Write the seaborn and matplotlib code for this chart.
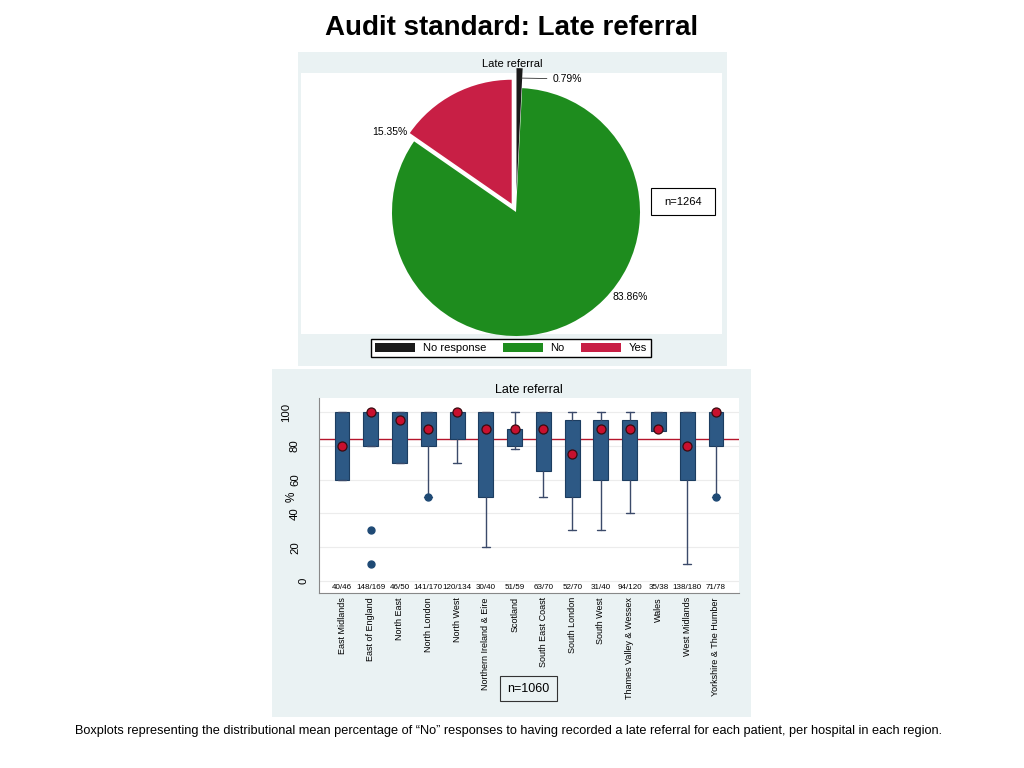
import numpy as np
import pandas as pd
import matplotlib.pyplot as plt
import matplotlib.patches as mpatches
import matplotlib.transforms as mtransforms
import seaborn as sns

sns.set_style('white')
plt.rcParams['font.family'] = ['Liberation Sans', 'DejaVu Sans']
plt.rcParams['text.color'] = 'black'
plt.rcParams['axes.labelcolor'] = 'black'
plt.rcParams['xtick.color'] = 'black'
plt.rcParams['ytick.color'] = 'black'

# pie data (overall responses)
pie_labels = ['No response', 'No', 'Yes']
pie_pct = [0.79, 83.86, 15.35]
pie_text = ['0.79%', '83.86%', '15.35%']
pie_colors = ['#1a1a1a', '#1e8c1e', '#c81f45']

# boxplot data per region (% "No" per hospital)
regions = ['East Midlands', 'East of England', 'North East', 'North London', 'North West',
           'Northern Ireland & Eire', 'Scotland', 'South East Coast', 'South London',
           'South West', 'Thames Valley & Wessex', 'Wales', 'West Midlands',
           'Yorkshire & The Humber']
n_labels = ['40/46', '148/169', '46/50', '141/170', '120/134', '30/40', '51/59', '63/70',
            '52/70', '31/40', '94/120', '35/38', '138/180', '71/78']
q1 = [60, 80, 70, 80, 84, 50, 80, 65, 50, 60, 60, 89, 60, 80]
q3 = [100, 100, 100, 100, 100, 100, 90, 100, 95, 95, 95, 100, 100, 100]
whis_lo = [60, 80, 70, 50, 70, 20, 78, 50, 30, 30, 40, 89, 10, 50]
whis_hi = [100, 100, 100, 100, 100, 100, 100, 100, 100, 100, 100, 100, 100, 100]
outliers = [[], [30, 10], [], [50], [], [], [], [], [], [], [], [], [], [50]]
means = [80, 100, 95, 90, 100, 90, 90, 90, 75, 90, 90, 90, 80, 100]
overall_no = 83.86
y_ticks = [0, 20, 40, 60, 80, 100]

W, H = 1024, 768
bg = '#EAF2F3'

fig = plt.figure(figsize=(W / 100, H / 100), dpi=100)

def fr(x0, y0, x1, y1):
    # pixel box -> figure fraction rect
    return [x0 / W, 1 - y1 / H, (x1 - x0) / W, (y1 - y0) / H]

# panel backgrounds
for x0, y0, x1, y1 in [(298, 52, 727, 366), (272, 369, 751, 717)]:
    fig.patches.append(mpatches.Rectangle((x0 / W, 1 - y1 / H), (x1 - x0) / W, (y1 - y0) / H,
                                          transform=fig.transFigure, facecolor=bg,
                                          edgecolor='none', zorder=-5))

fig.text(512 / W, 1 - 28 / H, 'Audit standard: Late referral', ha='center', va='center',
         fontsize=20, fontweight='bold')

# ---- pie ----
ax_pie = fig.add_axes(fr(301, 73, 722, 334))
wedges, _ = ax_pie.pie(pie_pct, colors=pie_colors, startangle=90, counterclock=False,
                       explode=[0.16, 0, 0.075], radius=1, wedgeprops=dict(linewidth=0))
for w in wedges:
    w.set_clip_on(False)
ax_pie.set_aspect('auto')
ax_pie.set_xlim(-215 / 124, 206 / 124)
ax_pie.set_ylim(-122 / 124, 139 / 124)
ax_pie.axis('off')
ax_pie.add_patch(mpatches.Rectangle((0, 0), 1, 1, transform=ax_pie.transAxes,
                                    facecolor='white', edgecolor='none', zorder=-1))
ax_pie.text(-0.879, 0.645, pie_text[2], ha='right', va='center', fontsize=7.5)
ax_pie.text(0.782, -0.685, pie_text[1], ha='left', va='center', fontsize=7.5)
ax_pie.annotate(pie_text[0], xy=(0.04, 1.08), xytext=(0.298, 1.073), ha='left', va='center',
                fontsize=7.5, annotation_clip=False,
                arrowprops=dict(arrowstyle='-', lw=0.6, color='#333333', shrinkA=2, shrinkB=0))
fig.text(512 / W, 1 - 64 / H, 'Late referral', ha='center', va='center', fontsize=8)

fig.patches.append(mpatches.Rectangle((651 / W, 1 - 215 / H), 64 / W, 27 / H,
                                      transform=fig.transFigure, facecolor='white',
                                      edgecolor='black', linewidth=0.8, zorder=3))
fig.text(683 / W, 1 - 202 / H, 'n=1264', ha='center', va='center', fontsize=8, zorder=4)

handles = [mpatches.Patch(facecolor=c, edgecolor='none') for c in pie_colors]
fig.legend(handles, pie_labels, loc='center', bbox_to_anchor=(511 / W, 1 - 348 / H), ncol=3,
           fontsize=8, frameon=True, fancybox=False, edgecolor='black', framealpha=1,
           handlelength=3.6, handleheight=0.9, handletextpad=0.7, columnspacing=1.5,
           borderpad=0.3)

# ---- boxplot ----
ax = fig.add_axes(fr(319, 398, 739, 593))
stats = []
for i in range(len(regions)):
    stats.append(dict(med=q3[i], q1=q1[i], q3=q3[i], whislo=whis_lo[i], whishi=whis_hi[i],
                      fliers=outliers[i]))
ax.bxp(stats, positions=range(len(regions)), widths=0.52, capwidths=0.28, patch_artist=True,
       manage_ticks=False,
       boxprops=dict(facecolor='#2d5985', edgecolor='#1c3d60', linewidth=0.8),
       whiskerprops=dict(color='#3b4a6a', linewidth=1),
       capprops=dict(color='#3b4a6a', linewidth=1),
       medianprops=dict(linewidth=0),
       flierprops=dict(marker='o', markerfacecolor='#1f4a75', markeredgecolor='#1f4a75',
                       markersize=5))
ax.axhline(overall_no, color='#b5152b', lw=1, zorder=1.5)
sns.stripplot(x=regions, y=means, jitter=False, color='#c8102e', edgecolor='#3a0a10',
              linewidth=0.9, size=6.5, zorder=5, ax=ax)
ax.set_xticks(range(len(regions)), regions)
ax.set_xlim(-0.8, 13.8)
ax.set_ylim(-7.1, 108.3)
ax.set_yticks(y_ticks)
ax.yaxis.grid(True, color='#ececec', lw=0.8)
ax.set_axisbelow(True)
ax.tick_params(axis='y', length=5, color='#888888', labelleft=False)
ax.tick_params(axis='x', length=0, labelsize=6.5, labelrotation=90, pad=3)
for lab in ax.get_xticklabels():
    lab.set_va('top')
# y tick labels, right-justified on their unrotated width (as in the original)
ytr = mtransforms.blended_transform_factory(ax.transAxes, ax.transData)
for v in y_ticks:
    s = str(v)
    xpx = 317 - 8.5 * len(s)
    ax.text((xpx - 319) / 420, v, s, transform=ytr, rotation=90, ha='right', va='center',
            fontsize=8.2)
ax.set_ylabel('%', fontsize=8.5, rotation=90)
ax.yaxis.label.set_va('center')
ax.yaxis.set_label_coords((292 - 319) / 420, 0.495)
for s in ['top', 'right']:
    ax.spines[s].set_visible(False)
for s in ['left', 'bottom']:
    ax.spines[s].set_color('#888888')
    ax.spines[s].set_linewidth(0.8)
for i, t in enumerate(n_labels):
    ax.text(i, -3.6, t, ha='center', va='center', fontsize=5.8)

fig.text(529 / W, 1 - 390 / H, 'Late referral', ha='center', va='center', fontsize=9)
fig.patches.append(mpatches.Rectangle((500 / W, 1 - 701 / H), 57 / W, 25 / H,
                                      transform=fig.transFigure, facecolor='none',
                                      edgecolor='#333333', linewidth=0.8, zorder=3))
fig.text(528.5 / W, 1 - 689 / H, 'n=1060', ha='center', va='center', fontsize=9)

fig.text(509 / W, 1 - 731 / H,
         'Boxplots representing the distributional mean percentage of \u201cNo\u201d responses to '
         'having recorded a late referral for each patient, per hospital in each region.',
         ha='center', va='center', fontsize=9.2)

fig.savefig('out.png', dpi=100)
